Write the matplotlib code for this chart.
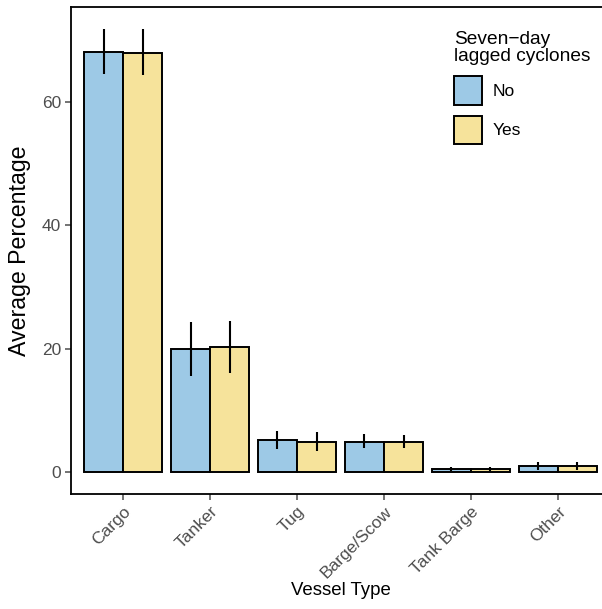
import numpy as np
import matplotlib.pyplot as plt
from matplotlib.patches import Patch

plt.rcParams['font.family'] = ['Liberation Sans', 'DejaVu Sans']

# data
vessel_types = ['Cargo', 'Tanker', 'Tug', 'Barge/Scow', 'Tank Barge', 'Other']
groups = ['No', 'Yes']
mean_no = [68.1, 20.0, 5.1, 4.9, 0.5, 1.0]
mean_yes = [68.0, 20.3, 4.9, 4.9, 0.5, 1.0]
low_no = [64.5, 15.6, 3.7, 3.9, 0.2, 0.3]
high_no = [71.8, 24.3, 6.6, 6.2, 0.8, 1.6]
low_yes = [64.3, 16.0, 3.4, 3.9, 0.2, 0.3]
high_yes = [71.8, 24.5, 6.5, 6.0, 0.8, 1.6]

colors = {'No': '#9dc9e6', 'Yes': '#f6e39b'}

fig = plt.figure(figsize=(6.02, 6.09), dpi=100)
W, H = 602, 609
# the panel runs off the right edge of the image; cut it at the edge
px_per_unit = 539 / 6.2
ax_w = W - 71
ax_h = 487
ax = fig.add_axes([71 / W, 1 - 494 / H, ax_w / W, ax_h / H])

x = np.arange(len(vessel_types))
bw = 0.45
series = [('No', mean_no, low_no, high_no, -bw / 2),
          ('Yes', mean_yes, low_yes, high_yes, bw / 2)]
for name, m, lo, hi, off in series:
    ax.bar(x + off, m, width=bw, color=colors[name], edgecolor='black',
           linewidth=1.4, zorder=2)
    ax.vlines(x + off, lo, hi, color='black', linewidth=1.5, zorder=3)

ax.set_xlim(-0.6, -0.6 + ax_w / px_per_unit)
ax.set_ylim(-3.59, 75.4)
ax.set_yticks([0, 20, 40, 60])
ax.set_xticks(x)
ax.set_xticklabels(vessel_types, rotation=45, ha='right', va='top',
                   rotation_mode='anchor')
ax.tick_params(axis='both', colors='#4d4d4d', labelsize=12.5, width=1.1,
               length=4, labelcolor='#4d4d4d', pad=3)
for s in ['left', 'bottom', 'top']:
    ax.spines[s].set_linewidth(1.3)
ax.spines['right'].set_visible(False)

ax.set_ylabel('Average Percentage', fontsize=16.7, labelpad=8)
ax.set_xlabel('Vessel Type', fontsize=13.4)
# centre the x title on the full (uncut) panel
ax.xaxis.set_label_coords(539 / 2 / ax_w, -88 / ax_h)

handles = [Patch(facecolor=colors[g], edgecolor='black', linewidth=1.4, label=g)
           for g in groups]
leg = ax.legend(handles=handles, title='Seven\u2212day\nlagged cyclones',
                loc='upper left', bbox_to_anchor=(445 / W, 1 - 22 / H),
                bbox_transform=fig.transFigure, frameon=False, fontsize=12.5,
                title_fontsize=13.8, handlelength=1.61, handleheight=2.19,
                labelspacing=0.63, handletextpad=0.63, borderpad=0,
                alignment='left')
leg.get_title().set_linespacing(1.0)

fig.savefig('out.png', dpi=100)
